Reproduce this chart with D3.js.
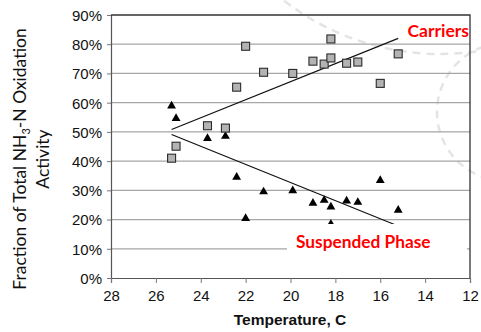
<!DOCTYPE html>
<html>
<head>
<meta charset="utf-8">
<script src="https://cdn.jsdelivr.net/npm/d3@7"></script>
<style>
  body { margin: 0; background: #fff; }
  svg { display: block; }
</style>
</head>
<body>
<svg width="481" height="332"></svg>
<script>
// temperatures (C) at which both fractions were measured
const temps = [25.3, 25.1, 23.7, 22.9, 22.4, 22.0, 21.2, 19.9, 19.0, 18.5, 18.2, 18.2, 17.5, 17.0, 16.0, 15.2];
const carriers = [0.41, 0.451, 0.521, 0.513, 0.653, 0.793, 0.704, 0.70, 0.742, 0.732, 0.818, 0.753, 0.735, 0.739, 0.666, 0.767];
const suspended = [0.589, 0.546, 0.478, 0.485, 0.345, 0.204, 0.295, 0.299, 0.256, 0.266, 0.243, 0.184, 0.264, 0.259, 0.334, 0.232];

// trend lines: [temp, fraction]
const carriersTrend = [[25.3, 0.508], [15.2, 0.820]];
const suspendedTrend = [[25.3, 0.491], [15.2, 0.178]];

const xTicks = [28, 26, 24, 22, 20, 18, 16, 14, 12];
const yTicks = [0, 0.1, 0.2, 0.3, 0.4, 0.5, 0.6, 0.7, 0.8, 0.9];

const svg = d3.select("svg");

const x = d3.scaleLinear().domain([28, 12]).range([111, 470]);
const y = d3.scaleLinear().domain([0, 0.9]).range([278, 15]);

// faint dashed watermark arcs behind the chart
const bg = svg.append("g")
    .attr("fill", "none")
    .attr("stroke", "#e4e4e4")
    .attr("stroke-width", 2.5)
    .attr("stroke-dasharray", "8,6");
bg.append("circle").attr("cx", 440).attr("cy", -201).attr("r", 255);
bg.append("circle").attr("cx", 506).attr("cy", 112).attr("r", 69);

// horizontal gridlines
svg.append("g")
    .selectAll("line")
    .data(yTicks.slice(1, -1))
    .enter().append("line")
    .attr("x1", x(28)).attr("x2", x(12))
    .attr("y1", d => y(d)).attr("y2", d => y(d))
    .attr("stroke", "#a6a6a6")
    .attr("stroke-width", 1.2);

// axes
const yAxis = d3.axisLeft(y).tickValues(yTicks)
    .tickFormat(d3.format(".0%")).tickSize(4).tickPadding(5);
const xAxis = d3.axisBottom(x).tickValues(xTicks)
    .tickFormat(d3.format("d")).tickSize(5).tickPadding(7);

const gy = svg.append("g").attr("transform", `translate(${x(28)},0)`).call(yAxis);
const gx = svg.append("g").attr("transform", `translate(0,${y(0)})`).call(xAxis);
[gx, gy].forEach(g => {
    g.select(".domain").attr("stroke", "#555").attr("stroke-width", 1.2);
    g.selectAll(".tick line").attr("stroke", "#777");
    g.selectAll("text")
        .attr("font-family", "Liberation Sans, Arial, sans-serif")
        .attr("font-size", 15)
        .attr("fill", "#111");
});
gy.selectAll("text").attr("dy", "0.36em");

// plot frame top/right
svg.append("path")
    .attr("d", `M${x(28)},${y(0.9)}H${x(12)}V${y(0)}`)
    .attr("fill", "none")
    .attr("stroke", "#333")
    .attr("stroke-width", 1.3);

// trend lines
const line = d3.line().x(d => x(d[0])).y(d => y(d[1]));
svg.append("g")
    .selectAll("path")
    .data([carriersTrend, suspendedTrend])
    .enter().append("path")
    .attr("d", line)
    .attr("fill", "none")
    .attr("stroke", "#111")
    .attr("stroke-width", 1.2);

// suspended phase triangles
const tri = d3.symbol().type(d3.symbolTriangle).size(34);
svg.append("g")
    .selectAll("path")
    .data(temps.map((t, i) => [t, suspended[i]]))
    .enter().append("path")
    .attr("d", tri)
    .attr("transform", d => `translate(${x(d[0])},${y(d[1])})`)
    .attr("fill", "#000");

// carrier squares
svg.append("g")
    .selectAll("rect")
    .data(temps.map((t, i) => [t, carriers[i]]))
    .enter().append("rect")
    .attr("x", d => x(d[0]) - 4)
    .attr("y", d => y(d[1]) - 4)
    .attr("width", 8)
    .attr("height", 8)
    .attr("fill", "#b3b3b3")
    .attr("stroke", "#2b2b2b")
    .attr("stroke-width", 1.1);

// series labels (white box hides the gridline behind it)
svg.append("rect")
    .attr("x", 287).attr("y", 224).attr("width", 180).attr("height", 36)
    .attr("fill", "#fff");

const labelFont = "Lato, 'Open Sans', sans-serif";
svg.append("text")
    .attr("x", 469).attr("y", 37)
    .attr("text-anchor", "end")
    .attr("font-family", labelFont)
    .attr("font-weight", "bold")
    .attr("font-size", 17.5)
    .attr("fill", "#ff0000")
    .text("Carriers");

svg.append("text")
    .attr("x", 296).attr("y", 248)
    .attr("font-family", labelFont)
    .attr("font-weight", "bold")
    .attr("font-size", 17.3)
    .attr("fill", "#ff0000")
    .text("Suspended Phase");

// axis titles
svg.append("text")
    .attr("x", 290).attr("y", 325)
    .attr("text-anchor", "middle")
    .attr("font-family", "Liberation Sans, Arial, sans-serif")
    .attr("font-weight", "bold")
    .attr("font-size", 15.5)
    .attr("fill", "#111")
    .text("Temperature, C");

const yTitle = svg.append("text")
    .attr("transform", "translate(0,159) rotate(-90)")
    .attr("text-anchor", "middle")
    .attr("font-family", "Lato, 'Open Sans', sans-serif")
    .attr("font-size", 17.5)
    .attr("fill", "#111");
const l1 = yTitle.append("tspan").attr("x", 0).attr("y", 26);
l1.append("tspan").text("Fraction of Total NH");
l1.append("tspan").attr("font-size", 11).attr("dy", 4).text("3");
l1.append("tspan").attr("dy", -4).text("-N Oxidation");
yTitle.append("tspan").attr("x", 0).attr("y", 49).text("Activity");
</script>
</body>
</html>
